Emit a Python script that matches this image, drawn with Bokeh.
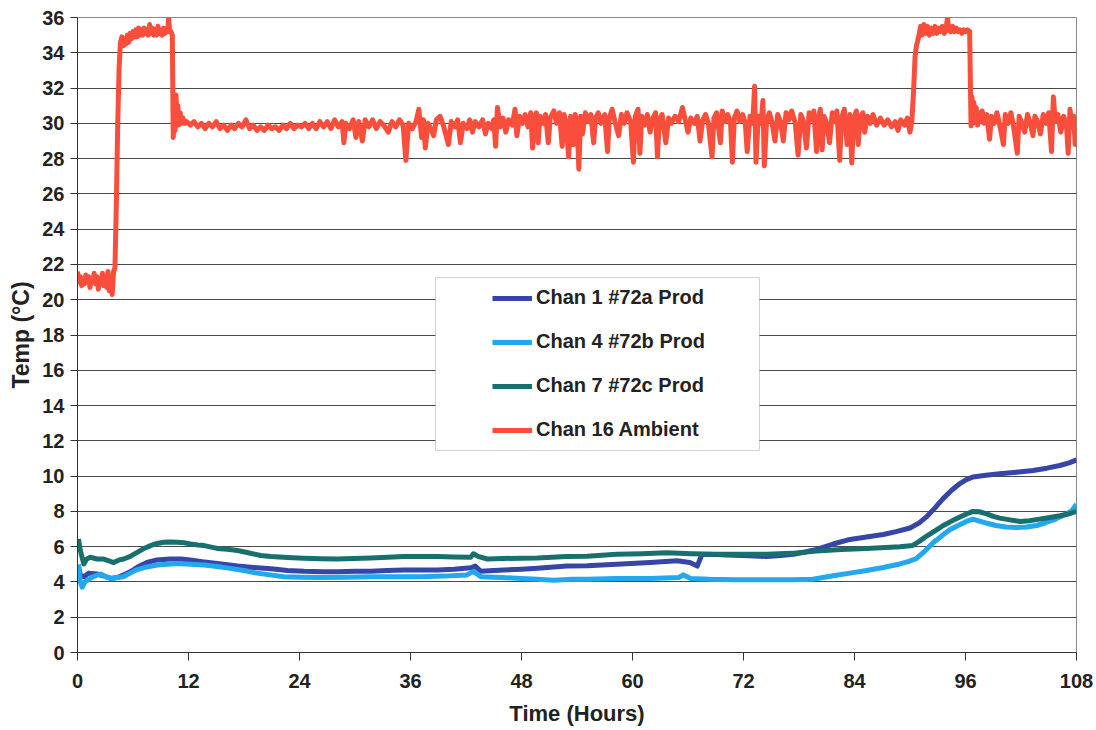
from bokeh.plotting import figure
from bokeh.models import (Range1d, FixedTicker, Legend, LegendItem, BoxAnnotation, ColumnDataSource)
from bokeh.embed import file_html
from bokeh.resources import INLINE

# ---------------- data ----------------
x_ticks = [0, 12, 24, 36, 48, 60, 72, 84, 96, 108]
y_ticks = [0, 2, 4, 6, 8, 10, 12, 14, 16, 18, 20, 22, 24, 26, 28, 30, 32, 34, 36]

series_names = ["Chan 1 #72a Prod", "Chan 4 #72b Prod", "Chan 7 #72c Prod", "Chan 16 Ambient"]
series_colors = ["#3545a8", "#22a8ee", "#17706e", "#f84e3b"]

chan1 = [(0.1,4.9),(0.3,4.4),(0.7,4.3),(1.2,4.5),(2.1,4.45),(2.8,4.35),(3.6,4.2),(4.3,4.25),(5.0,4.4),
         (5.8,4.6),(6.5,4.85),(7.5,5.1),(8.6,5.25),(10.0,5.3),(11.2,5.3),(12.2,5.25),(13.5,5.15),(15.1,5.05),
         (17.3,4.9),(19.0,4.82),(20.9,4.75),(22.7,4.65),(24.5,4.6),(26.5,4.58),(28.1,4.58),(30.0,4.6),
         (31.7,4.6),(33.5,4.65),(35.3,4.68),(37.0,4.68),(38.9,4.68),(40.7,4.72),(42.5,4.8),(43.0,4.9),
         (43.6,4.6),(45.0,4.65),(46.1,4.68),(48.0,4.72),(49.7,4.77),(52.9,4.9),(55.1,4.92),(58.3,5.0),
         (61.9,5.1),(64.8,5.2),(66.2,5.1),(67.0,4.9),(67.5,5.55),(69.0,5.55),(70.9,5.52),(72.7,5.48),
         (74.5,5.44),(76.0,5.5),(77.4,5.57),(78.7,5.7),(79.9,5.85),(81.7,6.15),(83.5,6.41),(85.3,6.55),
         (87.1,6.69),(88.5,6.85),(90.0,7.06),(91.0,7.35),(91.8,7.7),(92.7,8.2),(93.6,8.74),(94.5,9.2),
         (95.4,9.58),(96.1,9.8),(96.8,9.95),(98.2,10.05),(99.7,10.13),(101.5,10.22),(103.3,10.32),
         (104.8,10.45),(106.2,10.6),(107.2,10.75),(108.0,10.92)]

chan4 = [(0.1,5.0),(0.3,4.0),(0.5,3.7),(0.8,4.0),(1.0,4.07),(1.7,4.3),(2.5,4.45),(3.0,4.3),(3.6,4.2),
         (4.3,4.25),(5.0,4.3),(5.7,4.5),(6.45,4.7),(7.5,4.85),(8.6,4.96),(9.7,5.0),(10.8,5.05),(12.2,5.0),
         (13.7,4.96),(15.1,4.87),(16.5,4.77),(18.0,4.65),(19.4,4.5),(20.8,4.4),(22.3,4.3),(24.3,4.27),
         (26.3,4.25),(29.0,4.27),(31.7,4.3),(34.4,4.3),(37.1,4.3),(39.6,4.33),(42.1,4.4),(42.8,4.6),
         (43.6,4.3),(45.8,4.25),(47.9,4.2),(49.7,4.15),(51.5,4.1),(53.5,4.15),(55.1,4.15),(58.3,4.2),
         (61.9,4.2),(65.0,4.25),(65.5,4.4),(66.3,4.2),(68.3,4.15),(70.9,4.12),(74.5,4.12),(77.4,4.12),
         (79.5,4.15),(81.7,4.35),(83.5,4.5),(85.3,4.65),(87.1,4.82),(88.9,5.02),(89.8,5.15),(90.7,5.33),
         (91.6,5.75),(92.5,6.22),(93.4,6.6),(94.3,6.96),(95.2,7.2),(96.1,7.43),(96.8,7.56),(97.5,7.45),
         (98.3,7.33),(99.3,7.2),(100.4,7.11),(101.5,7.08),(102.6,7.11),(103.7,7.2),(104.7,7.37),
         (105.8,7.58),(106.9,7.85),(107.5,8.05),(108.0,8.4)]

chan7 = [(0.1,6.44),(0.3,5.8),(0.68,5.02),(1.0,5.3),(1.4,5.4),(2.1,5.3),(2.85,5.3),(3.4,5.2),(3.9,5.1),
         (4.5,5.25),(5.0,5.3),(5.7,5.45),(6.45,5.68),(7.2,5.9),(7.9,6.06),(8.6,6.18),(9.3,6.25),(10.0,6.27),
         (10.8,6.25),(11.5,6.22),(12.2,6.16),(13.0,6.1),(13.7,6.06),(15.1,5.9),(16.2,5.85),(17.3,5.78),
         (18.7,5.63),(19.8,5.5),(20.9,5.44),(22.7,5.38),(24.5,5.34),(26.3,5.32),(28.1,5.3),(29.9,5.33),
         (31.7,5.36),(33.5,5.4),(35.3,5.44),(37.1,5.44),(38.9,5.44),(40.7,5.42),(42.5,5.4),(42.8,5.6),
         (43.3,5.45),(44.3,5.3),(46.0,5.33),(47.9,5.35),(49.7,5.36),(52.9,5.44),(55.1,5.46),(58.3,5.57),
         (61.0,5.6),(63.7,5.66),(66.4,5.6),(69.1,5.57),(71.8,5.57),(74.5,5.57),(77.2,5.62),(79.9,5.76),
         (82.6,5.84),(85.3,5.89),(88.9,6.0),(90.3,6.07),(91.0,6.3),(91.8,6.6),(92.7,6.9),(93.6,7.2),
         (94.5,7.45),(95.4,7.68),(96.1,7.85),(96.8,8.0),(97.5,7.98),(98.3,7.86),(99.0,7.72),(99.7,7.62),
         (100.8,7.52),(101.9,7.43),(102.9,7.47),(104.0,7.56),(105.1,7.65),(106.2,7.75),(107.1,7.85),
         (108.0,8.0)]

chan16 = [(0.0,21.6),(0.15,21.0),(0.3,21.3),(0.45,20.8),(0.6,21.2),(0.75,20.9),(0.9,21.4),(1.05,21.0),
          (1.2,21.3),(1.35,20.7),(1.5,21.2),(1.65,21.0),(1.8,21.5),(1.95,20.9),(2.1,21.3),(2.25,20.6),
          (2.4,21.2),(2.55,20.9),(2.7,21.5),(2.85,20.8),(3.0,21.2),(3.15,20.7),(3.3,21.6),(3.45,20.5),
          (3.6,21.3),(3.75,20.3),(3.9,21.6),
          (4.05,21.8),(4.2,25.5),(4.35,30.0),(4.5,33.2),(4.65,34.6),(4.8,34.9),
          (4.95,34.4),(5.1,34.8),(5.25,34.5),(5.4,35.0),(5.55,34.6),(5.7,35.1),(5.85,34.8),(6.0,35.2),
          (6.15,34.9),(6.3,35.3),(6.45,34.9),(6.6,35.4),(6.75,35.0),(6.9,35.3),(7.05,35.0),(7.2,35.4),
          (7.35,35.1),(7.5,35.3),(7.65,35.0),(7.8,35.6),(7.95,35.1),(8.1,35.4),(8.25,35.0),(8.4,35.3),
          (8.55,35.0),(8.7,35.5),(8.85,35.1),(9.0,35.3),(9.15,35.0),(9.3,35.4),(9.45,35.1),(9.6,35.3),
          (9.75,35.2),(9.85,36.0),(9.95,35.3),(10.1,35.2),(10.25,35.0),
          (10.35,29.2),(10.45,30.4),(10.55,29.6),(10.65,31.6),(10.75,30.3),(10.85,31.0),(10.95,29.9),
          (11.1,30.6),(11.25,30.0),(11.4,30.3),(11.6,30.0),(11.8,30.1),
          (12.2,29.9),(12.6,30.1),(13.0,29.8),(13.4,30.0),(13.8,29.7),(14.2,30.0),(14.6,29.8),(15.0,30.1),
          (15.4,29.7),(15.8,29.9),(16.2,29.6),(16.6,29.9),(17.0,29.7),(17.4,30.0),(17.8,29.8),(18.2,30.2),
          (18.6,29.7),(19.0,29.9),(19.4,29.6),(19.8,29.8),(20.2,29.6),(20.6,29.9),(21.0,29.7),(21.4,29.8),
          (21.8,29.6),(22.2,29.9),(22.6,29.7),(23.0,30.0),(23.4,29.7),(23.8,29.9),(24.2,29.8),(24.6,30.0),
          (25.0,29.7),(25.4,30.0),(25.8,29.7),(26.2,30.1),(26.6,29.8),(27.0,30.1),(27.4,29.7),(27.8,30.2),
          (28.2,29.8),
          (28.6,30.1),(28.8,28.9),(29.0,30.0),(29.4,29.7),(29.8,30.2),(30.1,29.2),(30.4,30.1),(30.8,29.0),
          (31.1,30.2),(31.5,29.8),(31.9,30.2),(32.3,29.7),(32.7,30.1),(33.1,29.9),(33.6,29.5),(34.0,30.1),
          (34.4,29.8),(34.8,30.2),(35.2,29.9),(35.5,27.9),(35.8,30.0),(36.2,29.7),(36.6,30.1),(36.9,30.8),
          (37.2,29.2),(37.4,30.2),(37.6,28.6),(37.9,30.0),(38.2,29.7),(38.5,29.3),(38.8,30.2),(39.2,30.4),
          (39.6,29.8),(40.1,28.8),(40.4,30.1),(40.8,29.8),(41.1,30.2),(41.4,28.9),(41.7,30.0),(42.1,29.7),
          (42.4,30.2),(42.7,29.5),(43.0,30.1),(43.4,29.8),(43.8,30.2),(44.1,29.4),(44.4,30.0),(44.8,29.7),
          (45.0,30.2),(45.2,28.7),(45.4,30.9),(45.7,29.8),(46.0,30.3),(46.3,29.5),(46.6,30.2),(47.0,29.9),
          (47.3,30.8),(47.5,29.3),(47.8,30.4),(48.1,30.0),(48.4,30.5),(48.7,29.8),(49.0,30.6),(49.2,28.6),
          (49.4,30.3),(49.6,30.6),(49.8,28.9),(50.0,30.4),(50.3,30.0),(50.6,30.5),(50.9,28.9),(51.1,30.3),
          (51.5,30.7),(51.8,30.0),(52.1,30.6),(52.4,28.7),(52.6,30.5),(52.8,30.1),(53.1,28.1),(53.3,30.4),
          (53.6,28.8),(53.8,30.5),(54.0,30.1),(54.2,27.4),(54.4,30.4),(54.6,29.4),(54.9,30.6),(55.2,30.1),
          (55.5,30.5),(55.8,28.9),(56.0,30.3),(56.3,30.6),(56.6,30.0),(57.0,30.5),(57.3,28.4),(57.5,30.3),
          (57.8,30.8),(58.1,30.1),(58.5,29.3),(58.8,30.5),(59.1,30.0),(59.4,30.6),(59.8,30.1),(60.1,27.8),
          (60.3,30.4),(60.6,30.8),(60.8,28.3),(61.0,30.4),(61.3,29.9),(61.6,30.5),(61.9,29.5),(62.2,30.3),
          (62.5,30.6),(62.7,28.1),(62.9,30.2),(63.2,30.5),(63.6,28.9),(63.9,30.3),(64.2,30.0),(64.6,30.4),
          (65.0,30.1),(65.4,30.9),(65.7,30.2),(66.0,29.5),(66.3,30.3),(66.7,30.0),(67.0,30.4),(67.3,29.0),
          (67.6,30.2),(67.9,30.5),(68.2,30.0),(68.6,28.1),(68.8,30.3),(69.1,30.6),(69.5,28.9),(69.7,30.7),
          (70.0,30.1),(70.3,30.5),(70.6,30.0),(70.8,27.8),(71.0,30.3),(71.3,30.7),(71.6,30.1),(71.9,30.5),
          (72.2,30.0),(72.4,28.4),(72.7,30.4),(73.0,30.0),(73.2,32.1),(73.35,27.8),(73.6,30.4),(73.9,30.0),
          (74.1,31.3),(74.25,27.6),(74.5,30.2),(74.8,30.6),(75.1,30.0),(75.4,29.0),(75.7,30.5),(76.0,30.1),
          (76.3,29.0),(76.6,30.6),(76.9,30.2),(77.2,30.7),(77.6,30.0),(77.9,28.2),(78.2,30.5),(78.5,30.1),
          (78.8,28.6),(79.1,30.6),(79.4,30.2),(79.6,30.7),(79.9,28.4),(80.1,30.3),(80.3,30.8),(80.5,28.5),
          (80.7,30.4),(81.0,30.0),(81.3,28.9),(81.6,30.6),(81.9,30.1),(82.1,30.7),(82.4,27.9),(82.6,30.3),
          (82.9,30.8),(83.2,28.8),(83.5,30.5),(83.7,27.75),(83.9,30.2),(84.2,30.7),(84.4,28.8),(84.6,30.3),
          (84.9,30.6),(85.1,29.5),(85.4,30.4),(85.7,30.0),(86.0,30.5),(86.4,29.9),(86.8,30.3),(87.2,29.9),
          (87.6,30.2),(88.0,29.8),(88.4,30.1),(88.7,29.6),(89.0,30.2),(89.4,29.9),(89.7,30.3),(90.0,29.5),
          (90.2,30.1),
          (90.4,32.0),(90.55,33.8),(90.7,34.4),(90.85,34.7),(91.0,35.1),(91.15,35.5),(91.3,35.0),(91.5,35.6),
          (91.7,35.1),(91.9,35.5),(92.1,35.0),(92.3,35.4),(92.5,35.1),(92.7,35.5),(92.9,35.1),(93.1,35.4),
          (93.3,35.2),(93.5,35.5),(93.7,35.1),(93.9,35.3),(94.05,36.0),(94.2,35.3),(94.4,35.2),(94.6,35.5),
          (94.8,35.2),(95.0,35.4),(95.2,35.2),(95.4,35.3),(95.6,35.1),(95.8,35.3),(96.0,35.2),(96.2,35.3),
          (96.45,35.2),
          (96.6,29.85),(96.7,31.5),(96.8,30.0),(96.9,31.2),(97.0,30.2),(97.15,30.9),(97.3,29.9),(97.45,30.6),
          (97.6,30.1),(97.8,30.7),(98.0,30.0),(98.3,30.5),(98.6,29.1),(98.8,30.4),(99.1,30.0),(99.4,30.6),
          (99.7,29.9),(100.1,28.8),(100.3,30.5),(100.6,30.0),(100.9,30.6),(101.2,29.8),(101.6,28.3),
          (101.8,30.4),(102.1,30.0),(102.4,29.5),(102.7,30.5),(103.0,30.0),(103.3,29.3),(103.5,30.4),
          (103.8,30.1),(104.1,29.4),(104.4,30.5),(104.7,30.0),(105.0,30.6),(105.3,28.4),(105.5,31.5),
          (105.7,30.1),(106.0,30.5),(106.3,29.5),(106.6,30.4),(106.9,30.0),(107.1,28.3),(107.3,30.8),
          (107.5,29.8),(107.7,30.4),(107.85,28.8),(108.0,29.7)]

all_series = [chan1, chan4, chan7, chan16]
line_widths = [5, 5, 5, 5]

FONT = "Liberation Sans"

p = figure(width=1096, height=730, output_backend="svg", toolbar_location=None,
           x_range=Range1d(0, 108), y_range=Range1d(0, 36),
           min_border_left=77, min_border_right=20, min_border_top=17, min_border_bottom=78)
p.background_fill_color = "white"
p.border_fill_color = "white"
p.outline_line_color = "#8a8a8a"
p.outline_line_width = 1

# axes
for ax in (p.xaxis[0], p.yaxis[0]):
    ax.axis_line_color = "#333333"
    ax.axis_line_width = 1
    ax.major_tick_line_color = "#333333"
    ax.major_tick_in = 0
    ax.minor_tick_line_color = None
    ax.major_label_text_font = FONT
    ax.major_label_text_font_style = "bold"
    ax.major_label_text_font_size = "20px"
    ax.major_label_text_color = "#222222"
    ax.axis_label_text_font = FONT
    ax.axis_label_text_font_style = "bold"
    ax.axis_label_text_color = "#222222"

p.xaxis[0].ticker = FixedTicker(ticks=x_ticks)
p.yaxis[0].ticker = FixedTicker(ticks=y_ticks)
p.xaxis[0].major_tick_out = 8
p.yaxis[0].major_tick_out = 7
p.xaxis[0].major_label_standoff = 13
p.yaxis[0].major_label_standoff = 6
p.xaxis[0].axis_label = "Time (Hours)"
p.yaxis[0].axis_label = "Temp (\u00b0C)"
p.xaxis[0].axis_label_text_font_size = "22px"
p.yaxis[0].axis_label_text_font_size = "23px"
p.xaxis[0].axis_label_standoff = 10
p.yaxis[0].axis_label_standoff = 5

p.xgrid.visible = False
p.ygrid.ticker = FixedTicker(ticks=y_ticks)
p.ygrid.grid_line_color = "#4a4a4a"
p.ygrid.grid_line_width = 1

renderers = []
for data, color, w in zip(all_series, series_colors, line_widths):
    src = ColumnDataSource(dict(x=[d[0] for d in data], y=[d[1] for d in data]))
    r = p.line("x", "y", source=src, line_color=color, line_width=w, line_join="round")
    renderers.append(r)

# legend frame (white box with grey border)
box = BoxAnnotation(left=435, right=759, top=277, bottom=450,
                    left_units="canvas", right_units="canvas", top_units="canvas", bottom_units="canvas",
                    fill_color="white", fill_alpha=1.0, line_color="#6a6a6a", line_width=1)
p.add_layout(box)

legend = Legend(items=[LegendItem(label=n, renderers=[r]) for n, r in zip(series_names, renderers)],
                location=(405, 201))
legend.border_line_alpha = 0
legend.background_fill_alpha = 0
legend.glyph_width = 40
legend.glyph_height = 20
legend.label_height = 20
legend.spacing = 21
legend.padding = 10
legend.margin = 0
legend.label_standoff = 4
legend.label_text_font = FONT
legend.label_text_font_style = "bold"
legend.label_text_font_size = "20px"
legend.label_text_color = "#222222"
p.add_layout(legend)

open("out.html", "w").write(file_html(p, INLINE))
